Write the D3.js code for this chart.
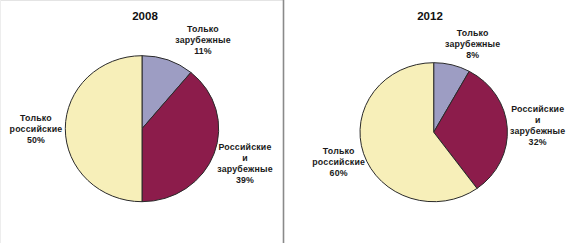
<!DOCTYPE html>
<html>
<head>
<meta charset="utf-8">
<script src="https://cdn.jsdelivr.net/npm/d3@7"></script>
<style>
  body { margin: 0; background: #fff; }
  svg { display: block; font-family: "Liberation Sans", Arial, sans-serif; }
</style>
</head>
<body>
<svg></svg>
<script>
// data
const years = ['2008', '2012'];
const categories = [
  ['Только', 'зарубежные'],
  ['Российские', 'и', 'зарубежные'],
  ['Только', 'российские']
];
const shares2008 = [11, 39, 50];
const shares2012 = [8, 32, 60];

const size = {w: 575, h: 243};
const colors = ['#9d9dc3', '#8c1c4b', '#f7efb9'];

const svg = d3.select('svg')
  .attr('width', size.w)
  .attr('height', size.h);

// panel frame and divider
svg.append('line')
  .attr('x1', 0).attr('x2', 283).attr('y1', 0.5).attr('y2', 0.5)
  .attr('stroke', '#e4e4e4');
svg.append('line')
  .attr('x1', 0.5).attr('x2', 0.5).attr('y1', 0).attr('y2', size.h)
  .attr('stroke', '#ededed');
svg.append('line')
  .attr('x1', 283.5).attr('x2', 283.5).attr('y1', 0).attr('y2', size.h)
  .attr('stroke', '#8a8a8a').attr('stroke-width', 1.6);

// layout for each pie: centre, radii, title spot, label spots (offset from centre)
const layouts = [
  {cx: 142, cy: 128.7, rx: 76.7, ry: 73, tx: 145, ty: 19.5,
   labels: [[61, -96.5], [103, 21], [-106, -8]]},
  {cx: 433.7, cy: 132.2, rx: 73.7, ry: 69.5, tx: 430, ty: 20,
   labels: [[39, -96], [104, -20.5], [-95, 21.5]]}
];

const pie = d3.pie().sort(null).value(d => d);
const arc = d3.arc().innerRadius(0);

[shares2008, shares2012].forEach((shares, i) => {
  const L = layouts[i];
  const g = svg.append('g');

  g.append('text')
    .attr('x', L.tx).attr('y', L.ty)
    .attr('text-anchor', 'middle')
    .attr('font-size', 11.5).attr('font-weight', 'bold')
    .attr('fill', '#111')
    .text(years[i]);

  const pieG = g.append('g')
    .attr('transform', `translate(${L.cx},${L.cy}) scale(${L.rx / L.ry},1)`);

  arc.outerRadius(L.ry);

  pieG.selectAll('path')
    .data(pie(shares))
    .enter()
    .append('path')
    .attr('d', arc)
    .attr('fill', (d, j) => colors[j])
    .attr('stroke', '#2a2a2a')
    .attr('stroke-width', 1)
    .attr('vector-effect', 'non-scaling-stroke');

  shares.forEach((v, j) => {
    const lines = categories[j].concat([v + '%']);
    const [dx, dy] = L.labels[j];
    const t = g.append('text')
      .attr('text-anchor', 'middle')
      .attr('font-size', 8.8).attr('font-weight', 'bold')
      .attr('letter-spacing', 0.2)
      .attr('fill', '#1a1a1a');
    lines.forEach((s, k) => {
      t.append('tspan')
        .attr('x', L.cx + dx)
        .attr('y', L.cy + dy + k * 11)
        .text(s);
    });
  });
});
</script>
</body>
</html>
